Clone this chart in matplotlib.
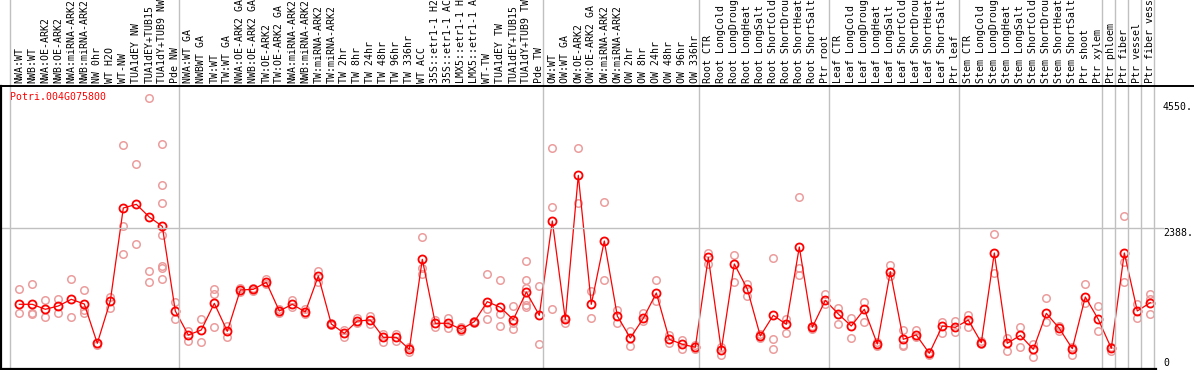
import numpy as np
import matplotlib
matplotlib.use('Agg')
import matplotlib.pyplot as plt
from matplotlib.lines import Line2D
from matplotlib.transforms import blended_transform_factory

# ── Data ──────────────────────────────────────────────────────────────────────
gene = 'Potri.004G075800'

samples = [
    'NWA:WT', 'NWB:WT', 'NWA:OE-ARK2', 'NWB:OE-ARK2', 'NWA:miRNA-ARK2',
    'NWB:miRNA-ARK2', 'NW 0hr', 'WT H2O', 'WT-NW', 'TUA1dEY NW',
    'TUA1dEY+TUB15', 'TUA1dY+TUB9 NW', 'Pde NW',
    'NWA:WT GA', 'NWBWT GA', 'TW:WT', 'TW:WT GA', 'NWA:OE-ARK2 GA',
    'NWB:OE-ARK2 GA', 'TW:OE-ARK2', 'TW:OE-ARK2 GA', 'NWA:miRNA-ARK2',
    'NWB:miRNA-ARK2', 'TW:miRNA-ARK2', 'TW:miRNA-ARK2', 'TW 2hr', 'TW 8hr',
    'TW 24hr', 'TW 48hr', 'TW 96hr', 'TW 336hr', 'WT ACC', '35S::etr1-1 H2O',
    '35S::etr1-1 ACC', 'LMX5::etr1-1 H2O', 'LMX5::etr1-1 ACC', 'WT-TW',
    'TUA1dEY TW', 'TUA1dEY+TUB15', 'TUA1dY+TUB9 TW', 'Pde TW',
    'OW:WT', 'OW:WT GA', 'OW:OE-ARK2', 'OW:OE-ARK2 GA', 'OW:miRNA-ARK2',
    'OW:miRNA-ARK2', 'OW 2hr', 'OW 8hr', 'OW 24hr', 'OW 48hr', 'OW 96hr',
    'OW 336hr',
    'Root CTR', 'Root LongCold', 'Root LongDrought', 'Root LongHeat',
    'Root LongSalt', 'Root ShortCold', 'Root ShortDrought', 'Root ShortHeat',
    'Root ShortSalt', 'Ptr root',
    'Leaf CTR', 'Leaf LongCold', 'Leaf LongDrought', 'Leaf LongHeat',
    'Leaf LongSalt', 'Leaf ShortCold', 'Leaf ShortDrought', 'Leaf ShortHeat',
    'Leaf ShortSalt', 'Ptr leaf',
    'Stem CTR', 'Stem LongCold', 'Stem LongDrought', 'Stem LongHeat',
    'Stem LongSalt', 'Stem ShortCold', 'Stem ShortDrought', 'Stem ShortHeat',
    'Stem ShortSalt', 'Ptr shoot', 'Ptr xylem',
    'Ptr phloem', 'Ptr fiber', 'Ptr vessel', 'Ptr fiber vessel',
]

# first sample index of each group (last entry = end)
group_starts = [0, 13, 41, 53, 63, 73, 84, 85, 86, 87, 88]

means = [
    1124, 1124, 1041, 1096, 1207, 1129, 475, 1179, 2726, 2787,
    2576, 2421, 1013, 614, 697, 1140, 675, 1362, 1373, 1490,
    1013, 1124, 996, 1595, 797, 641, 846, 863, 575, 575,
    375, 1872, 808, 808, 708, 835, 1168, 1074, 869, 1329,
    941, 2510, 874, 3269, 1124, 2177, 930, 564, 891, 1312,
    542, 459, 409, 1905, 364, 1795, 1379, 597, 941, 791,
    2077, 741, 1190, 963, 763, 1041, 464, 1667, 542, 614,
    309, 763, 741, 863, 486, 1978, 475, 608, 375, 974,
    724, 386, 1246, 874, 392, 1978, 1013, 1152,
]

reps = [
    [1373, 985], [1462, 985, 957], [1196, 919], [1207, 974], [1540, 919],
    [1362, 1030, 974], [447], [1251, 1068], [3768, 2427, 1955], [3452, 2127],
    [4550, 1673, 1490], [3785, 3103, 2804, 2271, 1767, 1723, 1540],
    [1163, 874], [686, 520], [874, 492], [1373, 1290, 752], [763, 575],
    [1401, 1323], [1401, 1346], [1540, 1456], [1041, 974], [1196, 1074],
    [1041, 963], [1684, 1501], [808, 780], [697, 575], [891, 808],
    [930, 797], [630, 503], [630, 520], [409, 337], [2238, 1723, 1623],
    [863, 741], [891, 724], [741, 686], [852, 819], [1623, 1041, 874],
    [1523, 963, 758], [1096, 808, 708], [1839, 1523, 1390, 1196, 1113, 1074],
    [1429, 459], [3718, 2737, 1052], [891, 819], [3718, 2815], [1346, 902],
    [2820, 1523], [1030, 808], [686, 436], [985, 846], [1523, 1179],
    [614, 475], [531, 386], [375, 447], [1983, 1795], [281, 409],
    [1939, 1490], [1456, 1257], [558, 630], [1889, 542, 375], [874, 641],
    [2903, 1723, 1606], [719, 763], [1296, 1124], [1068, 791], [891, 558],
    [1163, 824], [503, 431], [1778, 1595], [697, 447, 431], [697, 575],
    [337, 281], [824, 641], [852, 669], [946, 741], [520, 464],
    [2294, 1639], [558, 353], [741, 420], [464, 242], [1224, 824],
    [763, 686], [420, 281], [1456, 1140], [1096, 680], [353, 420],
    [2593, 1822, 1501], [1129, 891], [1290, 1207, 957],
]

y_ticks = ['4550.', '2388.', '0']

# ── Figure ────────────────────────────────────────────────────────────────────
W, H = 1194, 370
fig = plt.figure(figsize=(W / 100, H / 100), dpi=100)
ax = fig.add_axes([1 / W, 1 / H, 1154.7 / W, 283 / H])

MONO = 'DejaVu Sans Mono'
RED = '#ff0000'
PINK = '#eb9c9c'
GRID = '#c0c0c0'

x = np.arange(len(samples))

for i, vals in enumerate(reps):
    ax.plot([i] * len(vals), vals, 'o', ms=5.4, mfc='none', mec=PINK,
            mew=1.1, zorder=2)
ax.plot(x, means, '-', color=RED, lw=0.9, zorder=3)
ax.plot(x, means, 'o', ms=5.8, mfc='none', mec=RED, mew=1.3, zorder=4)

ax.set_xlim(-1.408, 87.415)
ax.set_ylim(48, 4755)
ax.set_xticks([])
ax.set_yticks([])
for s in ax.spines.values():
    s.set_visible(False)

# horizontal grid line at 2388, running out to the value labels
tr_h = blended_transform_factory(fig.transFigure, ax.transData)
fig.add_artist(Line2D([1 / W, 1163 / W], [2388, 2388], transform=tr_h,
                      color=GRID, lw=1, zorder=1))

# vertical group separators through plot and label area
tr_v = blended_transform_factory(ax.transData, fig.transFigure)
for g in group_starts:
    fig.add_artist(Line2D([g - 0.68, g - 0.68], [0, 1], transform=tr_v,
                          color=GRID, lw=1, zorder=1))

# black frame pieces
fig.add_artist(Line2D([0, 1], [1 - 86 / H, 1 - 86 / H], color='black', lw=1.4))
fig.add_artist(Line2D([1 / W, 1 / W], [1 / H, 1 - 86 / H], color='black', lw=1.6))
fig.add_artist(Line2D([0, 1155.7 / W], [1.2 / H, 1.2 / H], color='black', lw=1.6))

# sample labels (long ones run off the top edge, as in the original)
tr_lab = blended_transform_factory(ax.transData, fig.transFigure)
for i, lab in enumerate(samples):
    ax.text(i, 1 - 83 / H, lab, transform=tr_lab, rotation=90, ha='center',
            va='bottom', fontsize=7.1, family=MONO, color='black',
            clip_on=False)

ax.text(10 / W, 1 - 97 / H, gene, transform=fig.transFigure, ha='left',
        va='center', fontsize=7.1, family=MONO, color=RED)

for lab, ypx in zip(y_ticks, [102.5, 228.5, 358]):
    fig.text(1163 / W, 1 - ypx / H, lab, ha='left', va='top',
             fontsize=7.1, family=MONO, color='black')

fig.savefig('out.png', dpi=100)
